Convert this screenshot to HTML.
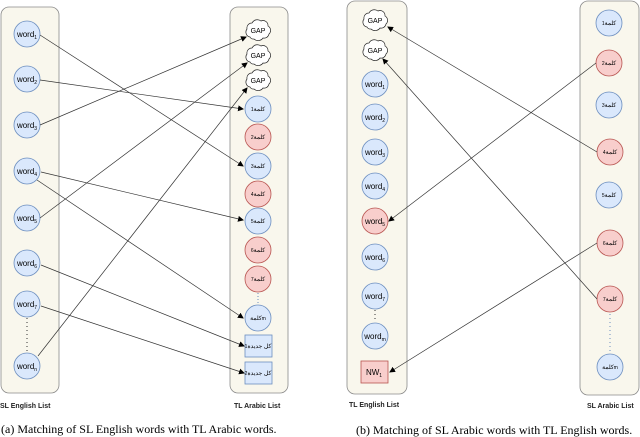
<!DOCTYPE html>
<html><head><meta charset="utf-8"><style>
html,body{margin:0;padding:0;background:#fff;}
svg{display:block;}
text{font-family:"Liberation Sans","Noto Sans CJK SC",sans-serif;}
.w{font-size:8px;fill:#000;text-anchor:middle;}
.s{font-size:5px;}
.cap{font-family:"Liberation Serif",serif;font-size:12px;}
.lab{font-size:7px;font-weight:bold;fill:#222;}
</style></head><body>
<svg width="640" height="437" viewBox="0 0 640 437" xmlns="http://www.w3.org/2000/svg">
<defs>
<marker id="a" markerWidth="6" markerHeight="6" refX="5" refY="3" orient="auto" markerUnits="userSpaceOnUse"><path d="M0,0 L6,3 L0,6 z" fill="#000"/></marker>
<path id="cl" d="M-8,7 a5,5 0 0 1 -3,-8 a5,5 0 0 1 5,-6 a6,6 0 0 1 9,-2 a5,5 0 0 1 7,5 a5,5 0 0 1 1,8 a5,5 0 0 1 -6,4 a6,6 0 0 1 -9,1 a4,4 0 0 1 -4,-2 z" fill="#fff" stroke="#222" stroke-width="0.7"/>
</defs>
<g fill="#f9f7ed" stroke="#8a8a8a" stroke-width="0.8">
<rect x="1" y="7" width="58" height="386" rx="8"/>
<rect x="230" y="7" width="58" height="386" rx="8"/>
<rect x="347" y="1" width="60" height="393" rx="8"/>
<rect x="580" y="1" width="59" height="394" rx="8"/>
</g>
<g fill="#dae8fc" stroke="#6c8ebf" stroke-width="0.8">
<circle cx="27" cy="34" r="13"/><circle cx="27" cy="79" r="13"/><circle cx="27" cy="125" r="13"/><circle cx="27" cy="171" r="13"/><circle cx="27" cy="218" r="13"/><circle cx="27" cy="263" r="13"/><circle cx="27" cy="304" r="13"/><circle cx="27" cy="366" r="13"/>
</g>
<line x1="27" y1="318" x2="27" y2="352" stroke="#333" stroke-dasharray="1,3"/>
<g class="w">
<text x="27" y="37">word<tspan class="s" dy="2">1</tspan></text>
<text x="27" y="82">word<tspan class="s" dy="2">2</tspan></text>
<text x="27" y="128">word<tspan class="s" dy="2">3</tspan></text>
<text x="27" y="174">word<tspan class="s" dy="2">4</tspan></text>
<text x="27" y="221">word<tspan class="s" dy="2">5</tspan></text>
<text x="27" y="266">word<tspan class="s" dy="2">6</tspan></text>
<text x="27" y="307">word<tspan class="s" dy="2">7</tspan></text>
<text x="27" y="369">word<tspan class="s" dy="2">n</tspan></text>
</g>
<use href="#cl" x="258" y="30"/><use href="#cl" x="258" y="55"/><use href="#cl" x="258" y="80"/>
<g class="w" style="font-size:7px"><text x="258" y="33">GAP</text><text x="258" y="58">GAP</text><text x="258" y="83">GAP</text></g>
<g stroke-width="0.8">
<circle cx="258" cy="109" r="13" fill="#dae8fc" stroke="#6c8ebf"/>
<circle cx="258" cy="137" r="13" fill="#f8cecc" stroke="#b85450"/>
<circle cx="258" cy="166" r="13" fill="#dae8fc" stroke="#6c8ebf"/>
<circle cx="258" cy="194" r="13" fill="#f8cecc" stroke="#b85450"/>
<circle cx="258" cy="221" r="13" fill="#dae8fc" stroke="#6c8ebf"/>
<circle cx="258" cy="250" r="13" fill="#f8cecc" stroke="#b85450"/>
<circle cx="258" cy="279" r="13" fill="#f8cecc" stroke="#b85450"/>
<circle cx="258" cy="318" r="13" fill="#dae8fc" stroke="#6c8ebf"/>
<rect x="245" y="335" width="27" height="22" fill="#dae8fc" stroke="#6c8ebf"/>
<rect x="245" y="362" width="27" height="22" fill="#dae8fc" stroke="#6c8ebf"/>
</g>
<line x1="258" y1="293" x2="258" y2="304" stroke="#6c8ebf" stroke-dasharray="1,2"/>
<g class="w" style="font-size:6px;font-family:'DejaVu Sans',sans-serif">
<text x="258" y="111">كلمة<tspan class="s">1</tspan></text>
<text x="258" y="139">كلمة<tspan class="s">2</tspan></text>
<text x="258" y="168">كلمة<tspan class="s">3</tspan></text>
<text x="258" y="196">كلمة<tspan class="s">4</tspan></text>
<text x="258" y="223">كلمة<tspan class="s">5</tspan></text>
<text x="258" y="252">كلمة<tspan class="s">6</tspan></text>
<text x="258" y="281">كلمة<tspan class="s">7</tspan></text>
<text x="258" y="320">كلمة<tspan class="s">m</tspan></text>
<text x="258" y="348">كل جديدة<tspan class="s">1</tspan></text>
<text x="258" y="375">كل جديدة<tspan class="s">2</tspan></text>
</g>
<g stroke="#333" stroke-width="0.7" fill="none" marker-end="url(#a)">
<line x1="40" y1="35" x2="243" y2="166"/>
<line x1="40" y1="80" x2="243" y2="109"/>
<line x1="40" y1="125" x2="246" y2="37"/>
<line x1="41" y1="172" x2="243" y2="220"/>
<line x1="37" y1="180" x2="243" y2="318"/>
<line x1="40" y1="218" x2="247" y2="63"/>
<line x1="41" y1="265" x2="244" y2="346"/>
<line x1="41" y1="306" x2="244" y2="373"/>
<line x1="38" y1="356" x2="247" y2="88"/>
</g>
<text class="lab" x="0" y="408">SL English List</text>
<text class="lab" x="234" y="408">TL Arabic List</text>
<text class="cap" x="1" y="433">(a)  Matching of SL English words with TL Arabic words.</text>
<use href="#cl" x="375" y="20"/><use href="#cl" x="375" y="50"/>
<g class="w" style="font-size:7px"><text x="375" y="23">GAP</text><text x="375" y="53">GAP</text></g>
<g stroke-width="0.8">
<circle cx="375" cy="84" r="13" fill="#dae8fc" stroke="#6c8ebf"/>
<circle cx="375" cy="117" r="13" fill="#dae8fc" stroke="#6c8ebf"/>
<circle cx="375" cy="152" r="13" fill="#dae8fc" stroke="#6c8ebf"/>
<circle cx="375" cy="186" r="13" fill="#dae8fc" stroke="#6c8ebf"/>
<circle cx="375" cy="221" r="13" fill="#f8cecc" stroke="#b85450"/>
<circle cx="375" cy="257" r="13" fill="#dae8fc" stroke="#6c8ebf"/>
<circle cx="375" cy="296" r="13" fill="#dae8fc" stroke="#6c8ebf"/>
<circle cx="375" cy="336" r="13" fill="#dae8fc" stroke="#6c8ebf"/>
<rect x="361" y="361" width="27" height="22" fill="#f8cecc" stroke="#b85450"/>
</g>
<line x1="375" y1="310" x2="375" y2="322" stroke="#333" stroke-dasharray="1,3"/>
<g class="w">
<text x="375" y="87">word<tspan class="s" dy="2">1</tspan></text>
<text x="375" y="120">word<tspan class="s" dy="2">2</tspan></text>
<text x="375" y="155">word<tspan class="s" dy="2">3</tspan></text>
<text x="375" y="189">word<tspan class="s" dy="2">4</tspan></text>
<text x="375" y="224">word<tspan class="s" dy="2">5</tspan></text>
<text x="375" y="260">word<tspan class="s" dy="2">6</tspan></text>
<text x="375" y="299">word<tspan class="s" dy="2">7</tspan></text>
<text x="375" y="339">word<tspan class="s" dy="2">m</tspan></text>
<text x="374" y="375">NW<tspan class="s" dy="2">1</tspan></text>
</g>
<g stroke-width="0.8">
<circle cx="609" cy="23" r="13" fill="#dae8fc" stroke="#6c8ebf"/>
<circle cx="609" cy="63" r="13" fill="#f8cecc" stroke="#b85450"/>
<circle cx="609" cy="105" r="13" fill="#dae8fc" stroke="#6c8ebf"/>
<circle cx="610" cy="152" r="13" fill="#f8cecc" stroke="#b85450"/>
<circle cx="609" cy="195" r="13" fill="#dae8fc" stroke="#6c8ebf"/>
<circle cx="610" cy="243" r="13" fill="#f8cecc" stroke="#b85450"/>
<circle cx="610" cy="299" r="13" fill="#f8cecc" stroke="#b85450"/>
<circle cx="610" cy="367" r="13" fill="#dae8fc" stroke="#6c8ebf"/>
</g>
<line x1="610" y1="314" x2="610" y2="352" stroke="#6c8ebf" stroke-dasharray="1,3"/>
<g class="w" style="font-size:6px;font-family:'DejaVu Sans',sans-serif">
<text x="609" y="25">كلمة<tspan class="s">1</tspan></text>
<text x="609" y="65">كلمة<tspan class="s">2</tspan></text>
<text x="609" y="107">كلمة<tspan class="s">3</tspan></text>
<text x="610" y="154">كلمة<tspan class="s">4</tspan></text>
<text x="609" y="197">كلمة<tspan class="s">5</tspan></text>
<text x="610" y="245">كلمة<tspan class="s">6</tspan></text>
<text x="610" y="301">كلمة<tspan class="s">7</tspan></text>
<text x="610" y="369">كلمة<tspan class="s">m</tspan></text>
</g>
<g stroke="#333" stroke-width="0.7" fill="none" marker-end="url(#a)">
<line x1="597" y1="152" x2="388" y2="27"/>
<line x1="596" y1="63" x2="389" y2="221"/>
<line x1="597" y1="299" x2="383" y2="59"/>
<line x1="597" y1="243" x2="390" y2="372"/>
</g>
<text class="lab" x="349" y="407">TL English List</text>
<text class="lab" x="587" y="408">SL Arabic List</text>
<text class="cap" x="356" y="434">(b)  Matching of SL Arabic words with TL English words.</text>
</svg>
</body></html>
